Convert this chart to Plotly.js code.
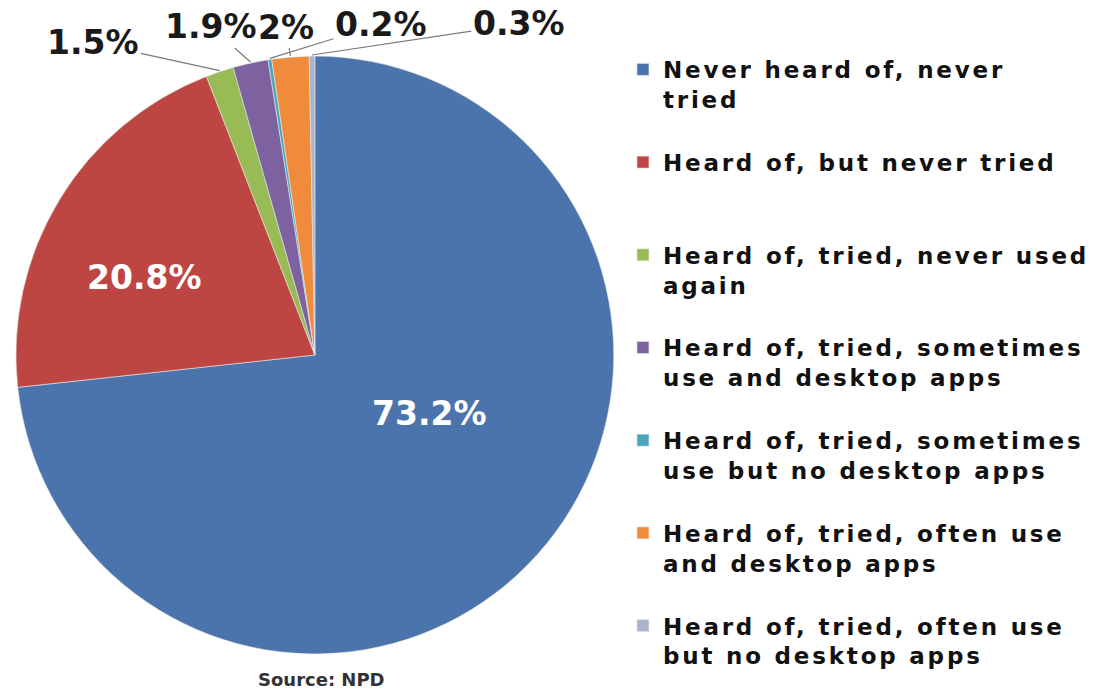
<!DOCTYPE html>
<html>
<head>
<meta charset="utf-8">
<script src="https://cdn.plot.ly/plotly-3.0.1.min.js"></script>
<style>
  html, body { margin: 0; padding: 0; background: #ffffff; }
  #chart { width: 1095px; height: 695px; }
  .legendtext { letter-spacing: 2.8px; }
</style>
</head>
<body>
<div id="chart"></div>
<script>
const categories = [
  "Never heard of, never tried",
  "Heard of, but never tried",
  "Heard of, tried, never used again",
  "Heard of, tried, sometimes use and desktop apps",
  "Heard of, tried, sometimes use but no desktop apps",
  "Heard of, tried, often use and desktop apps",
  "Heard of, tried, often use but no desktop apps"
];
const legendLabels = [
  "Never heard of, never<br>tried<br> ",
  "Heard of, but never tried<br> <br> ",
  "Heard of, tried, never used<br>again<br> ",
  "Heard of, tried, sometimes<br>use and desktop apps<br> ",
  "Heard of, tried, sometimes<br>use but no desktop apps<br> ",
  "Heard of, tried, often use<br>and desktop apps<br> ",
  "Heard of, tried, often use<br>but no desktop apps"
];
const shares = [73.2, 20.8, 1.5, 1.9, 0.2, 2, 0.3];
const sliceColors = ["#4a74ab", "#bd4643", "#98bb55", "#7e62a0", "#4aa6bd", "#f08b3c", "#a9b3c9"];
const sourceNote = "Source: NPD";

// ---- layout geometry (pixels) ----
const W = 1095, H = 695;
const pieBox = { left: 16, right: 616, top: 55, bottom: 655 };
const cx = (pieBox.left + pieBox.right) / 2, cy = (pieBox.top + pieBox.bottom) / 2;
const R = (pieBox.right - pieBox.left) / 2;
// label placement (text centres) for each slice, in pixels
const labelSpots = [
  [431, 413],  // 73.2 (inside)
  [145, 277],  // 20.8 (inside)
  [94, 43],    // 1.5
  [212, 27],   // 1.9
  [382, 24],   // 0.2
  [287, 27],   // 2
  [520, 24]    // 0.3
];

const trace = {
  type: "pie",
  labels: legendLabels,
  values: shares,
  customdata: categories,
  sort: false,
  direction: "clockwise",
  rotation: 0,
  marker: { colors: sliceColors, line: { color: "#e8e8e8", width: 0.6 } },
  textinfo: "none",
  hovertemplate: "%{customdata}: %{value}%<extra></extra>",
  domain: { x: [pieBox.left / W, pieBox.right / W], y: [1 - pieBox.bottom / H, 1 - pieBox.top / H] }
};

const total = shares.reduce((a, b) => a + b, 0);
const annotations = [];
let cum = 0;
shares.forEach((v, i) => {
  const mid = (cum + v / 2) / total * 2 * Math.PI;
  cum += v;
  const [lx, ly] = labelSpots[i];
  if (v > 10) {
    annotations.push({
      text: v + "%", x: lx / W, y: 1 - ly / H, xref: "paper", yref: "paper",
      showarrow: false, xanchor: "center", yanchor: "middle",
      font: { family: "DejaVu Sans", size: 33, color: "#ffffff", weight: "bold" }
    });
  } else {
    const tx = cx + R * Math.sin(mid), ty = cy - R * Math.cos(mid);
    annotations.push({
      text: v + "%", x: tx / W, y: 1 - ty / H, xref: "paper", yref: "paper",
      ax: lx - tx, ay: ly - ty, axref: "pixel", ayref: "pixel",
      showarrow: true, arrowhead: 0, arrowwidth: 1.2, arrowcolor: "#7a7a7a", standoff: 0,
      font: { family: "DejaVu Sans", size: 33, color: "#1a1a1a", weight: "bold" }
    });
  }
});
annotations.push({
  text: sourceNote, x: 323 / W, y: 1 - 679 / H, xref: "paper", yref: "paper",
  showarrow: false, xanchor: "center", yanchor: "middle",
  font: { family: "DejaVu Sans", size: 18, color: "#333333", weight: "bold" }
});

const layout = {
  width: W,
  height: H,
  margin: { l: 0, r: 0, t: 0, b: 0 },
  paper_bgcolor: "#ffffff",
  showlegend: true,
  legend: {
    x: 0.571, y: 0.931, xanchor: "left", yanchor: "top",
    valign: "top",
    font: { family: "DejaVu Sans", size: 23, color: "#111111", weight: "bold" },
    bgcolor: "rgba(0,0,0,0)"
  },
  annotations: annotations
};

Plotly.newPlot("chart", [trace], layout, { staticPlot: true });
</script>
</body>
</html>
